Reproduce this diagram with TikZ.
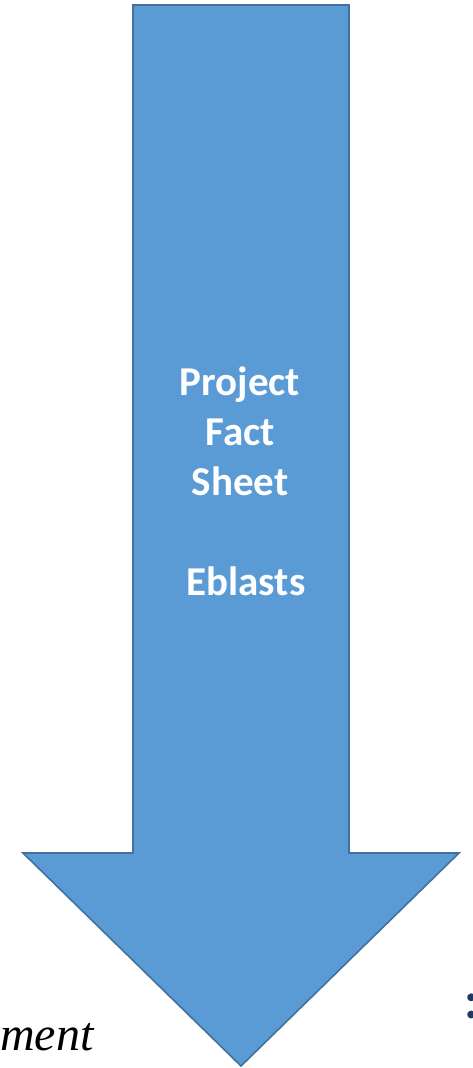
\documentclass[tikz,border=0pt]{standalone}
\usepackage{fontspec}
\setmainfont{Carlito}
\newfontfamily\serifit{Liberation Serif}
\definecolor{arrowfill}{HTML}{5B9BD5}
\definecolor{arrowedge}{HTML}{41719C}
\definecolor{darknavy}{HTML}{1F3864}
\begin{document}
\begin{tikzpicture}[x=1pt,y=-1pt,line join=miter,
	label/.style={inner sep=0pt,anchor=base,text=white,font=\fontsize{41}{50}\selectfont\bfseries}]
	
	\useasboundingbox (0,0) rectangle (472,1068);
	\fill[white] (0,0) rectangle (472,1068);
	% Vẽ mũi tên chỉ xuống
	\draw[fill=arrowfill,draw=arrowedge,line width=1.6pt]
		(133,5) -- (349,5) -- (349,853) -- (459,853) -- (241,1066) -- (23,853) -- (133,853) -- cycle;
	\node[label] (proj) at (240,395) {Project};
	\node[label] (fact) at (240,445) {Fact};
	\node[label] (sheet) at (240,495) {Sheet};
	\node[label] (eblasts) at (246,595) {Eblasts};
	% Chữ ở hai mép dưới
	\node[inner sep=0pt,anchor=base west,font=\fontsize{48}{60}\selectfont\serifit\itshape] (ment) at (0,1050) {ment};
	\node[inner sep=0pt,anchor=base west,text=darknavy,font=\fontsize{52}{60}\selectfont\bfseries] (colon) at (464,1018) {:};
\end{tikzpicture}
\end{document}
